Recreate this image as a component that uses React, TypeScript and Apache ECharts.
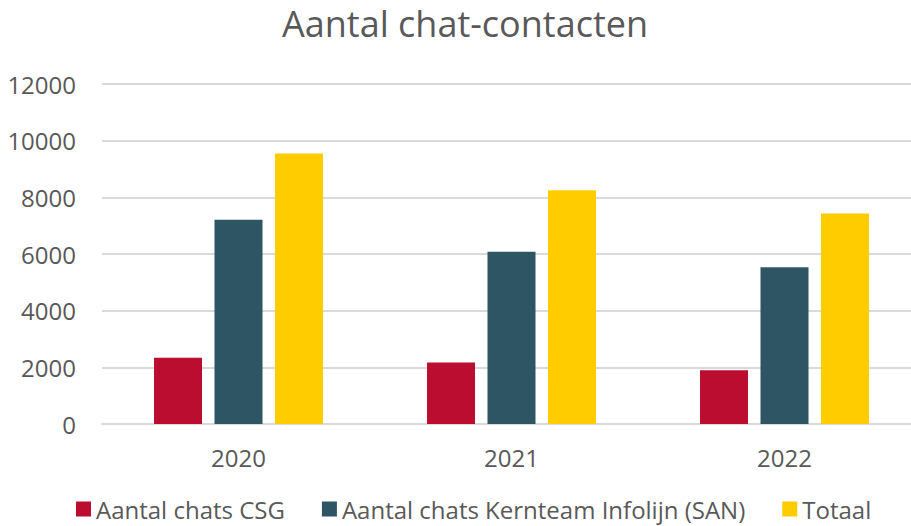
import React, { useEffect, useRef } from "react";
import * as echarts from "echarts";

const categories = ["2020", "2021", "2022"];
const seriesNames = [
  "Aantal chats CSG",
  "Aantal chats Kernteam Infolijn (SAN)",
  "Totaal",
];
const csgValues = [2340, 2170, 1900];
const sanValues = [7210, 6080, 5530];
const totaalValues = [9550, 8250, 7430];
const colors = ["#BB0D2F", "#2E5564", "#FFCC00"];

export default function App() {
  const ref = useRef<HTMLDivElement>(null);
  useEffect(() => {
    if (!ref.current) return;
    const chart = echarts.init(ref.current, undefined, { renderer: "svg" });
    const font = "'Open Sans', 'Noto Sans', sans-serif";
    const mkSeries = (name: string, data: number[], color: string) => ({
      name,
      type: "bar",
      data,
      barWidth: 48,
      barGap: "26%",
      itemStyle: { color },
    });
    chart.setOption({
      animation: false,
      backgroundColor: "#ffffff",
      textStyle: { fontFamily: font },
      title: {
        text: "Aantal chat-contacten",
        left: 282,
        top: 5,
        padding: 0,
        textStyle: {
          fontFamily: font,
          fontSize: 36,
          fontWeight: "normal",
          color: "#595959",
        },
      },
      legend: {
        data: seriesNames,
        left: 76,
        top: 497,
        padding: 0,
        itemWidth: 15,
        itemHeight: 15,
        itemGap: 37,
        icon: "rect",
        textStyle: { fontFamily: font, fontSize: 24, lineHeight: 24, color: "#595959" },
      },
      grid: { left: 102, top: 84, width: 819, height: 340, containLabel: false },
      xAxis: {
        type: "category",
        data: categories,
        axisLine: { lineStyle: { color: "#d9d9d9", width: 2 } },
        axisTick: { show: false },
        axisLabel: {
          fontFamily: font,
          fontSize: 24,
          color: "#595959",
          margin: 21,
        },
      },
      yAxis: {
        type: "value",
        min: 0,
        max: 12000,
        interval: 2000,
        axisLine: { show: false },
        axisTick: { show: false },
        splitLine: { lineStyle: { color: "#d9d9d9", width: 2 } },
        axisLabel: {
          fontFamily: font,
          fontSize: 24,
          color: "#595959",
          margin: 26,
          formatter: (v: number) => String(v),
        },
      },
      series: [
        mkSeries(seriesNames[0], csgValues, colors[0]),
        mkSeries(seriesNames[1], sanValues, colors[1]),
        mkSeries(seriesNames[2], totaalValues, colors[2]),
      ],
    });
    return () => chart.dispose();
  }, []);
  return (
    <div
      style={{
        position: "fixed",
        left: 0,
        top: 0,
        width: 911,
        height: 526,
        overflow: "hidden",
        background: "#fff",
      }}
    >
      <div ref={ref} style={{ width: 930, height: 526 }} />
    </div>
  );
}
